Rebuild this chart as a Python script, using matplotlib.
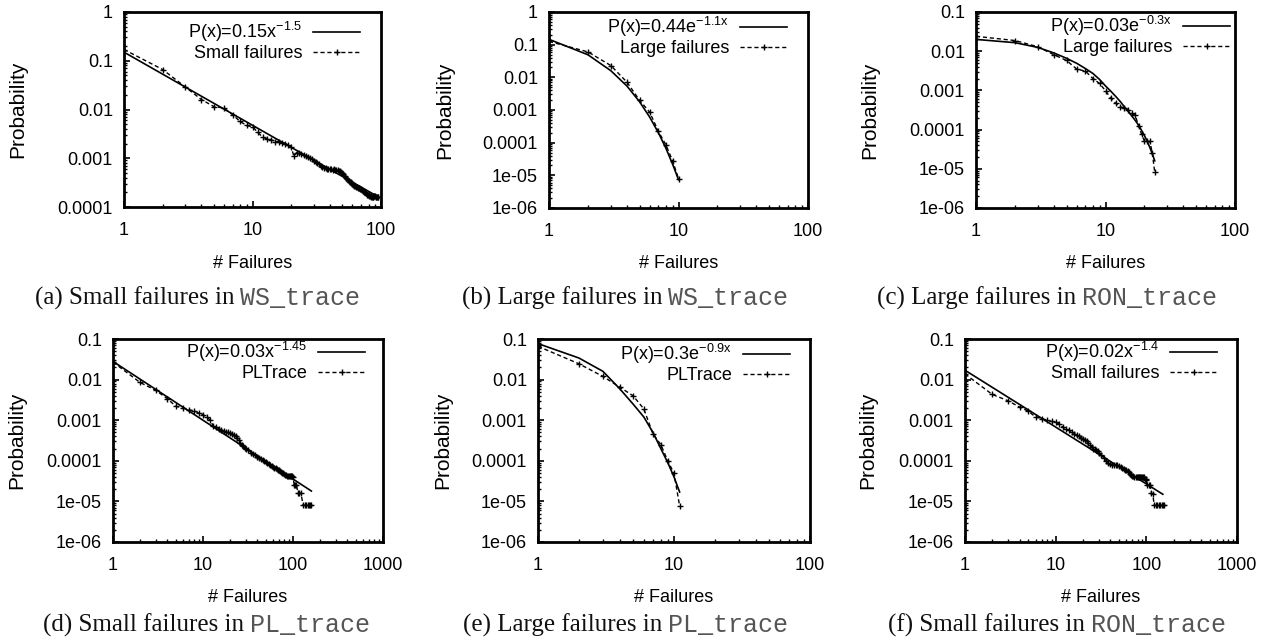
import matplotlib
matplotlib.use('Agg')
import matplotlib.pyplot as plt
from matplotlib import font_manager
from matplotlib.ticker import LogLocator, NullFormatter

installed = {f.name for f in font_manager.fontManager.ttflist}
SANS = 'Liberation Sans' if 'Liberation Sans' in installed else 'DejaVu Sans'
plt.rcParams['font.family'] = [SANS, 'DejaVu Sans']
plt.rcParams['mathtext.fontset'] = 'custom'
plt.rcParams['mathtext.rm'] = SANS
plt.rcParams['mathtext.it'] = SANS

# ---- data ----
# (a) small failures, WS_trace
ws_small_x = list(range(1, 96))
ws_small_y = [0.17, 0.066, 0.029, 0.016, 0.0115, 0.0107, 0.0078, 0.0057, 0.0047, 0.0044,
              0.0034, 0.0027, 0.0025, 0.0024, 0.0022, 0.0022, 0.0021, 0.0020, 0.0019, 0.0017,
              0.0011, 0.0013, 0.0013, 0.0012, 0.00115, 0.0011, 0.00105, 0.001, 0.00095, 0.00088,
              0.00085, 0.0008, 0.00075, 0.0007, 0.00066, 0.00064, 0.00062, 0.0006, 0.0006, 0.0006,
              0.00059, 0.00058, 0.00059, 0.00058, 0.00057, 0.00057, 0.00056, 0.00055, 0.00052, 0.0005,
              0.00047, 0.00043, 0.0004, 0.00038, 0.00036, 0.00034, 0.00033, 0.00032, 0.00031, 0.0003,
              0.00028, 0.00027, 0.00027, 0.00026, 0.00026, 0.00025, 0.00025, 0.00024, 0.00023, 0.00023,
              0.00022, 0.00021, 0.00021, 0.0002, 0.0002, 0.00019, 0.00019, 0.00018, 0.00018, 0.00018,
              0.00017, 0.00017, 0.00017, 0.00016, 0.00016, 0.00016, 0.00016, 0.00017, 0.00017, 0.00017,
              0.00016, 0.00016, 0.00016, 0.00016, 0.00016]
ws_small_fit_x = [1, 95]
ws_small_fit_y = [0.15, 0.000162]

# (b) large failures, WS_trace
ws_large_x = [1, 2, 3, 4, 5, 6, 7, 8, 9, 10]
ws_large_y = [0.126, 0.06, 0.023, 0.0071, 0.002, 0.00085, 0.00022, 8.5e-05, 2.8e-05, 7.9e-06]
ws_large_fit_x = [1, 2, 3, 4, 5, 6, 7, 8, 9, 10]
ws_large_fit_y = [0.146, 0.049, 0.016, 0.0054, 0.0018, 0.0006, 0.0002, 6.7e-05, 2.2e-05, 7.4e-06]

# (c) large failures, RON_trace
ron_large_x = list(range(1, 25))
ron_large_y = [0.024, 0.0187, 0.013, 0.0081, 0.0058, 0.0035, 0.0031, 0.002, 0.0015, 0.00098,
               0.00063, 0.00047, 0.00038, 0.00036, 0.00032, 0.00026, 0.00023, 0.000123, 7.6e-05, 5.1e-05,
               5e-05, 5e-05, 2.5e-05, 8.1e-06]
ron_large_fit_x = list(range(1, 25))
ron_large_fit_y = [0.020, 0.0165, 0.0125, 0.0090, 0.0066, 0.0049, 0.0036, 0.0027, 0.0019, 0.0013,
                   0.00095, 0.0007, 0.00052, 0.00038, 0.00029, 0.00022, 0.00017, 0.00013, 9.5e-05, 7e-05,
                   5e-05, 3.5e-05, 2.4e-05, 1.6e-05]

# (d) small failures, PL_trace
pl_small_x = list(range(1, 31)) + list(range(32, 101, 2)) + [103, 106, 109, 114, 118, 122,
                                                             130, 135, 140, 145, 150, 155, 160]
pl_small_y = [0.027, 0.0085, 0.0054, 0.0034, 0.0022, 0.0020, 0.0018, 0.0017, 0.0015, 0.00135,
              0.0012, 0.0010, 0.00072, 0.00068, 0.00062, 0.00058, 0.00055, 0.00052, 0.0005, 0.00048,
              0.00045, 0.00043, 0.0004, 0.00036, 0.00032, 0.00028, 0.00025, 0.00023, 0.00021, 0.0002,
              0.00018, 0.00016, 0.00015, 0.00014, 0.000126, 0.00012, 0.00011, 0.000105, 0.0001, 9.5e-05,
              9e-05, 8.5e-05, 8e-05, 7.5e-05, 7e-05, 6.8e-05, 6.5e-05, 6.2e-05, 6e-05, 5.9e-05,
              5.6e-05, 5.4e-05, 5.1e-05, 4.9e-05, 4.7e-05, 4.5e-05, 4.4e-05, 4.3e-05, 4.2e-05, 4.2e-05,
              4.2e-05, 4.2e-05, 4.2e-05, 4.2e-05, 4.1e-05,
              2.6e-05, 2.5e-05, 2.5e-05, 1.6e-05, 1.6e-05, 1.6e-05,
              8e-06, 8e-06, 8e-06, 8e-06, 8e-06, 8e-06, 8e-06]
pl_small_fit_x = [1, 160]
pl_small_fit_y = [0.028, 1.8e-05]

# (e) large failures, PL_trace
pl_large_x = [1, 2, 3, 4, 5, 6, 7, 8, 9, 10, 11]
pl_large_y = [0.066, 0.0245, 0.012, 0.0065, 0.004, 0.0019, 0.00046, 0.00025, 0.0001, 4.9e-05, 7.7e-06]
pl_large_fit_x = [1, 2, 3, 4, 5, 6, 7, 8, 9, 10, 11]
pl_large_fit_y = [0.077, 0.034, 0.016, 0.0059, 0.0025, 0.0012, 0.0005, 0.0002, 9e-05, 4e-05, 1.7e-05]

# (f) small failures, RON_trace
ron_small_x = list(range(1, 31)) + list(range(32, 101, 2)) + [102, 106, 110, 114, 118,
                                                              122, 127, 132, 137, 142, 147, 152, 157]
ron_small_y = [0.0138, 0.0043, 0.003, 0.0021, 0.00166, 0.0012, 0.0011, 0.001, 0.00093, 0.0009,
               0.0008, 0.00068, 0.00062, 0.00056, 0.00051, 0.00047, 0.00043, 0.0004, 0.00037, 0.00035,
               0.00033, 0.0003, 0.00027, 0.00024, 0.00022, 0.0002, 0.00019, 0.00018, 0.00017, 0.00016,
               0.00014, 0.00012, 0.0001, 9e-05, 8.2e-05, 8.1e-05, 8e-05, 8e-05, 7.8e-05, 7.6e-05,
               7e-05, 6.5e-05, 6.2e-05, 6e-05, 5.8e-05, 5.5e-05, 5.2e-05, 4.8e-05, 4.5e-05, 4.3e-05,
               4.2e-05, 4.1e-05, 4e-05, 4e-05, 4e-05, 4e-05, 4e-05, 4e-05, 4e-05, 4e-05,
               4e-05, 3.9e-05, 3.6e-05, 3.5e-05, 3.4e-05,
               2.6e-05, 2.5e-05, 2.5e-05, 1.6e-05, 1.5e-05,
               8e-06, 8e-06, 8e-06, 8e-06, 8e-06, 8e-06, 8e-06, 8e-06]
ron_small_fit_x = [1, 152]
ron_small_fit_y = [0.017, 1.5e-05]

y_decades = [1e-06, 1e-05, 0.0001, 0.001, 0.01, 0.1, 1]
y_decade_labels = ['1e-06', '1e-05', '0.0001', '0.001', '0.01', '0.1', '1']
x_decades = [1, 10, 100, 1000]
x_decade_labels = ['1', '10', '100', '1000']

W, H = 1279, 644
fig = plt.figure(figsize=(W / 100, H / 100), dpi=100)


def fx(px):
    return px / W


def fy(py):
    return 1 - py / H


panels = [
    # box = left, right, top, bottom in px; ylab = x of "Probability" centre;
    # leg = right end of legend samples and legend top; cap = caption start and baseline
    dict(box=(124, 381, 12, 207), xmax=100, ylim=(1e-4, 1), ylab=18,
         x=ws_small_x, y=ws_small_y, fx=ws_small_fit_x, fy=ws_small_fit_y,
         fit_label=r'P(x)=0.15x$^{-1.5}$', data_label='Small failures',
         leg=(360, 20), cap=('(a) Small failures in', 'WS_trace'), cap_xy=(35, 305)),
    dict(box=(549, 808, 12, 208), xmax=100, ylim=(1e-6, 1), ylab=445,
         x=ws_large_x, y=ws_large_y, fx=ws_large_fit_x, fy=ws_large_fit_y,
         fit_label=r'P(x)=0.44e$^{-1.1x}$', data_label='Large failures',
         leg=(787, 15), cap=('(b) Large failures in', 'WS_trace'), cap_xy=(462, 305)),
    dict(box=(976, 1235, 12, 208), xmax=100, ylim=(1e-6, 0.1), ylab=870,
         x=ron_large_x, y=ron_large_y, fx=ron_large_fit_x, fy=ron_large_fit_y,
         fit_label=r'P(x)=0.03e$^{-0.3x}$', data_label='Large failures',
         leg=(1230, 14), cap=('(c) Large failures in', 'RON_trace'), cap_xy=(877, 305)),
    dict(box=(113, 383, 339, 542), xmax=1000, ylim=(1e-6, 0.1), ylab=17,
         x=pl_small_x, y=pl_small_y, fx=pl_small_fit_x, fy=pl_small_fit_y,
         fit_label=r'P(x)=0.03x$^{-1.45}$', data_label='PLTrace',
         leg=(365, 340), cap=('(d) Small failures in', 'PL_trace'), cap_xy=(43, 632)),
    dict(box=(538, 810, 339, 542), xmax=100, ylim=(1e-6, 0.1), ylab=443,
         x=pl_large_x, y=pl_large_y, fx=pl_large_fit_x, fy=pl_large_fit_y,
         fit_label=r'P(x)=0.3e$^{-0.9x}$', data_label='PLTrace',
         leg=(790, 342), cap=('(e) Large failures in', 'PL_trace'), cap_xy=(463, 632)),
    dict(box=(965, 1237, 339, 542), xmax=1000, ylim=(1e-6, 0.1), ylab=868,
         x=ron_small_x, y=ron_small_y, fx=ron_small_fit_x, fy=ron_small_fit_y,
         fit_label=r'P(x)=0.02x$^{-1.4}$', data_label='Small failures',
         leg=(1217, 340), cap=('(f) Small failures in', 'RON_trace'), cap_xy=(888, 632)),
]

captions = []
for p in panels:
    l, r, t, b = p['box']
    ax = fig.add_axes([fx(l), fy(b), (r - l) / W, (b - t) / H])
    ax.plot(p['fx'], p['fy'], color='black', lw=1.2, label=p['fit_label'])
    ax.plot(p['x'], p['y'], color='black', lw=1.0, linestyle=(0, (3, 2)),
            marker='+', ms=5, mew=1.0, label=p['data_label'])
    ax.set_xscale('log')
    ax.set_yscale('log')
    ax.set_xlim(1, p['xmax'])
    ax.set_ylim(*p['ylim'])

    xt = [v for v in x_decades if v <= p['xmax']]
    ax.set_xticks(xt, [x_decade_labels[x_decades.index(v)] for v in xt])
    yt = [v for v in y_decades if p['ylim'][0] <= v <= p['ylim'][1]]
    ax.set_yticks(yt, [y_decade_labels[y_decades.index(v)] for v in yt])
    for axis in (ax.xaxis, ax.yaxis):
        axis.set_minor_locator(LogLocator(base=10, subs=range(2, 10), numticks=50))
        axis.set_minor_formatter(NullFormatter())
    ax.tick_params(which='both', direction='in', top=False, right=False, labelsize=13)
    ax.tick_params(which='major', length=4, width=1.2)
    ax.tick_params(which='minor', length=2.2, width=1.0)
    ax.tick_params(axis='y', pad=8)
    ax.tick_params(axis='x', pad=11)
    for s in ax.spines.values():
        s.set_linewidth(2.0)

    ax.set_ylabel('Probability', fontsize=15)
    ax.yaxis.set_label_coords((p['ylab'] - l) / (r - l), 0.5)
    ax.yaxis.label.set_va('center')
    ax.set_xlabel('# Failures', fontsize=13)
    ax.xaxis.set_label_coords(0.5, -(56 / (b - t)))
    ax.xaxis.label.set_va('center')

    ax.legend(loc='upper right', bbox_to_anchor=(fx(p['leg'][0]), fy(p['leg'][1])),
              bbox_transform=fig.transFigure, frameon=False, markerfirst=False,
              fontsize=13, handlelength=2.6, handletextpad=0.6, labelspacing=0.05,
              borderpad=0, borderaxespad=0)

    cx, cy = p['cap_xy']
    serif = fig.text(fx(cx), fy(cy), p['cap'][0], family='Liberation Serif',
                     fontsize=18, va='baseline', ha='left', color='#111111')
    captions.append((serif, p['cap'][1], cy))

renderer = fig.canvas.get_renderer()
for serif, mono, cy in captions:
    bb = serif.get_window_extent(renderer)
    fig.text(fx(bb.x1 + 6), fy(cy), mono, family='Liberation Mono', fontsize=18,
             va='baseline', ha='left', color='#555555')

fig.savefig('out.png', dpi=100)
